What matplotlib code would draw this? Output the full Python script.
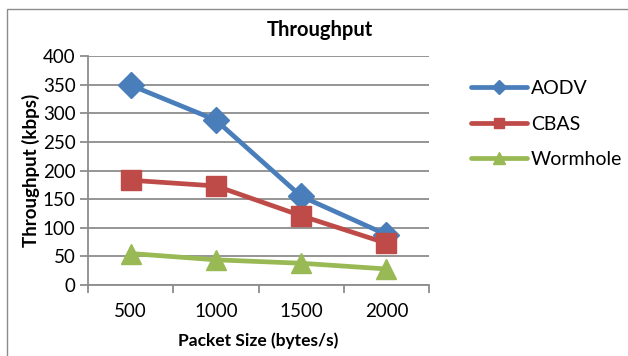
import matplotlib.pyplot as plt
from matplotlib.patches import Rectangle

plt.rcParams["font.family"] = ["Lato", "DejaVu Sans"]

# ---------------------------------------------------------------------------
# Data
# ---------------------------------------------------------------------------
packet_sizes = ["500", "1000", "1500", "2000"]
aodv = [349, 288, 155, 88]
cbas = [183, 173, 121, 73]
wormhole = [55, 44, 38, 28]

SERIES = [
    ("AODV", aodv, "#4a7ebb", "D", 13),
    ("CBAS", cbas, "#be4b48", "s", 14),
    ("Wormhole", wormhole, "#98b954", "^", 15),
]
GRID = "#8c8c8c"

fig = plt.figure(figsize=(6.28, 3.56), dpi=100)
fig.patches.append(
    Rectangle((7 / 628, -0.05), 1.1, 1 - 9 / 356 + 0.05, transform=fig.transFigure,
              fill=False, edgecolor="#8c8c8c", linewidth=1.0)
)
ax = fig.add_axes([88 / 628, 1 - 285 / 356, (429 - 88) / 628, (285 - 56) / 356])

x = list(range(len(packet_sizes)))
for name, vals, color, marker, ms in SERIES:
    ax.plot(x, vals, color=color, linewidth=3.4, marker=marker, markersize=ms,
            label=name, solid_capstyle="round", zorder=3)

ax.set_xlim(-0.5, len(packet_sizes) - 0.5)
ax.set_ylim(0, 400)
ax.set_yticks(range(0, 401, 50))
ax.grid(axis="y", color=GRID, linewidth=1.3)
ax.set_axisbelow(True)

# category boundaries as major ticks, labels on minor ticks
ax.set_xticks([i - 0.5 for i in range(len(packet_sizes) + 1)])
ax.set_xticklabels([])
ax.set_xticks(x, minor=True)
ax.set_xticklabels(packet_sizes, minor=True)
ax.tick_params(axis="x", which="major", length=6, width=1.3, color=GRID)
ax.tick_params(axis="x", which="minor", length=0, pad=13, labelsize=13.5)
ax.tick_params(axis="y", length=6, width=1.3, color=GRID, labelsize=13.5, pad=3)

for side in ["top", "right"]:
    ax.spines[side].set_visible(False)
for side in ["left", "bottom"]:
    ax.spines[side].set_color(GRID)
    ax.spines[side].set_linewidth(1.3)

ax.set_xlabel("Packet Size (bytes/s)", fontsize=12.5, fontweight="bold", labelpad=9)
ax.set_ylabel("Throughput (kbps)", fontsize=13.5, fontweight="bold", labelpad=2)
fig.text(320 / 628, 1 - 30 / 356, "Throughput", ha="center", va="center",
         fontsize=14.5, fontweight="bold")

fig.legend(loc="center left", bbox_to_anchor=(463 / 628, 1 - 124 / 356),
           frameon=False, fontsize=14, markerscale=0.55, handlelength=2.9,
           handletextpad=0.2, labelspacing=0.95, borderaxespad=0)

plt.savefig("out.png", dpi=100)
